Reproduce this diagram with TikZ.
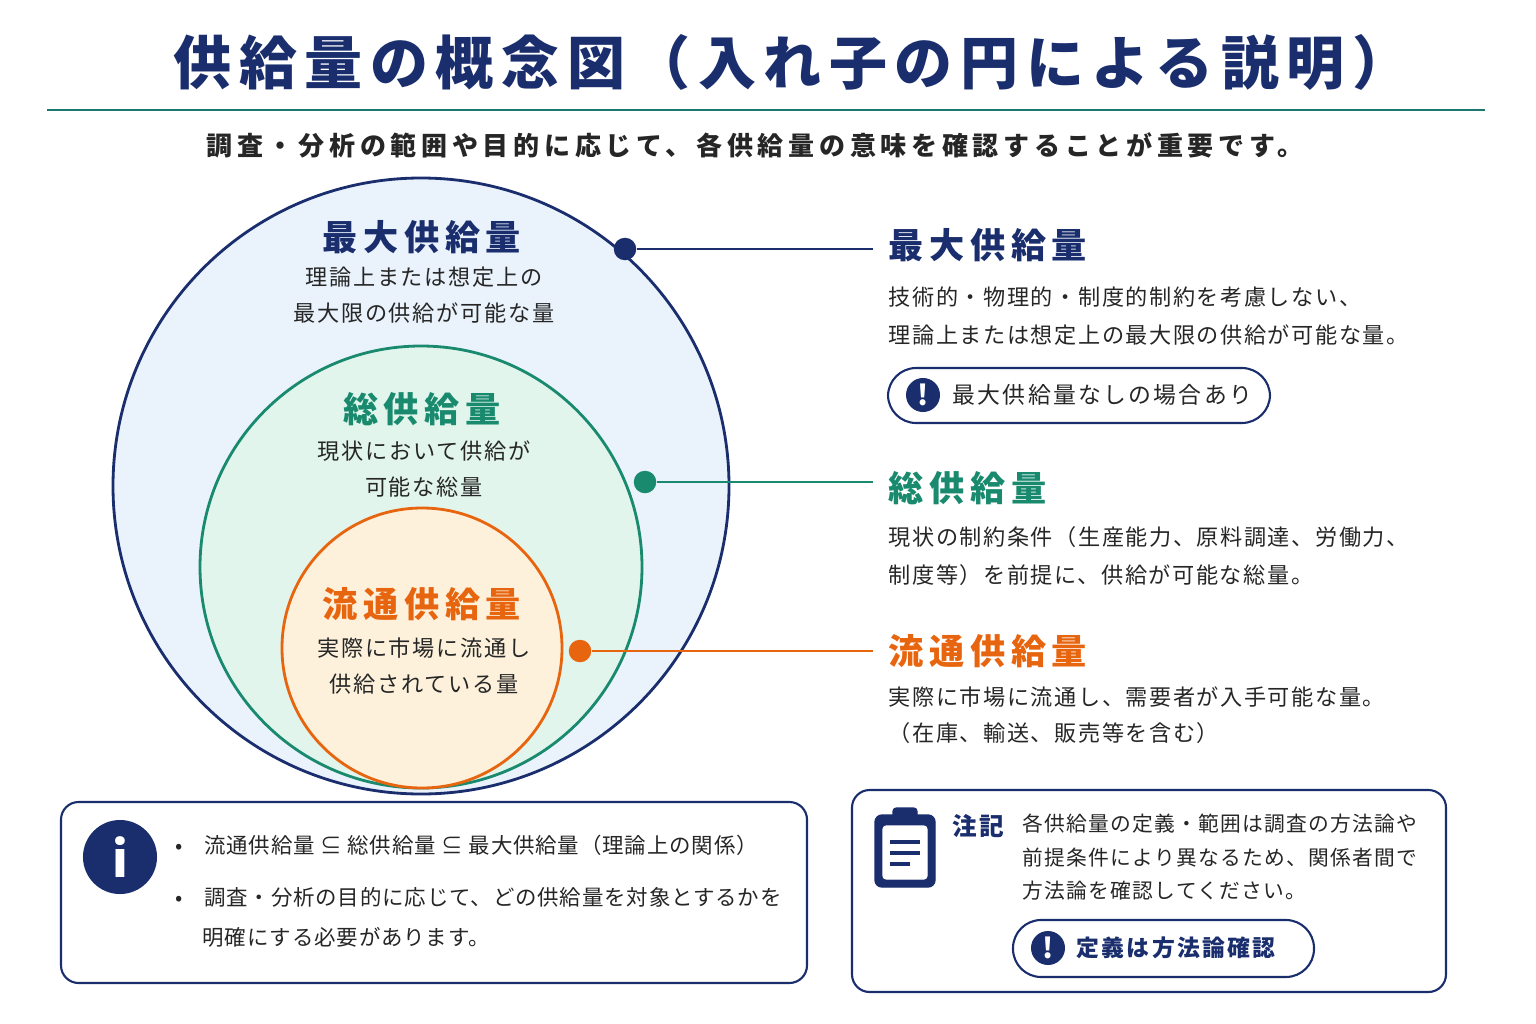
\documentclass[tikz,border=0pt]{standalone}
\usepackage{fontspec}
\setmainfont{Noto Sans CJK JP}
\usepackage{tikz}
\usetikzlibrary{positioning,calc}
\definecolor{navy}{HTML}{1A2E6E}
\definecolor{teal2}{HTML}{1A8A6E}
\definecolor{orng}{HTML}{E8650F}
\definecolor{fblue}{HTML}{EAF2FC}
\definecolor{fgreen}{HTML}{E1F5EC}
\definecolor{forng}{HTML}{FDF1DC}
\newcommand{\fs}[2]{\fontsize{#1pt}{#1pt}\selectfont\addfontfeature{LetterSpace=#2}}
\tikzset{
  head/.style={font=\fs{10}{16}\bfseries, inner sep=0pt},
  body/.style={font=\fs{6.3}{7}, inner sep=0pt, text=black!85},
  dot/.style={circle, minimum size=16\pgflinewidth, inner sep=0pt},
  pill/.style={draw=navy, rounded corners=8pt, line width=0.6pt, fill=white},
  box/.style={draw=navy, rounded corners=5pt, line width=0.6pt, fill=white},
  excl/.style={circle, fill=navy, text=white, font=\fs{8}{0}\bfseries, minimum size=0.34cm, inner sep=0pt}
}
\begin{document}
\begin{tikzpicture}[x=0.01cm, y=-0.01cm]
    \useasboundingbox (0,0) rectangle (1536,1024);
    % Title
    \node[font=\fs{16.5}{13}\bfseries, text=navy, inner sep=0pt] (title) at (792,62) {供給量の概念図（入れ子の円による説明）};
    \draw[teal2!80!navy, line width=0.7pt] (47,110) -- (1485,110);
    \node[font=\fs{7.4}{18}\bfseries, text=black!85, inner sep=0pt] (sub) at (755,145) {調査・分析の範囲や目的に応じて、各供給量の意味を確認することが重要です。};

    % Circles
    \draw[navy, fill=fblue, line width=0.8pt] (421,486) circle (308);
    \draw[teal2, fill=fgreen, line width=0.8pt] (421,567) circle (221);
    \draw[orng, fill=forng, line width=0.8pt] (422,648) circle (140);

    % Labels in circles
    \node[head, text=navy] (cmax) at (422,237) {最大供給量};
    \node[body, align=center, font=\fs{6.3}{8}] (cmaxt) at (424,295) {理論上または想定上の\\[4pt]最大限の供給が可能な量};
    \node[head, text=teal2] (ctot) at (422,409) {総供給量};
    \node[body, align=center, font=\fs{6.3}{8}] (ctott) at (424,469) {現状において供給が\\[4pt]可能な総量};
    \node[head, text=orng] (cflow) at (422,604) {流通供給量};
    \node[body, align=center, font=\fs{6.3}{8}] (cflowt) at (424,666) {実際に市場に流通し\\[4pt]供給されている量};

    % Connectors
    \node[dot, fill=navy] (d1) at (625,249) {};
    \node[dot, fill=teal2] (d2) at (645,482) {};
    \node[dot, fill=orng] (d3) at (580,651) {};
    \coordinate (e1) at (873,249);
    \coordinate (e2) at (873,482);
    \coordinate (e3) at (873,651);
    \draw[navy, line width=0.8pt] (d1) -- (e1);
    \draw[teal2, line width=0.8pt] (d2) -- (e2);
    \draw[orng, line width=0.8pt] (d3) -- (e3);

    % Right descriptions
    \node[head, text=navy, anchor=west] (rmax) at (888,245) {最大供給量};
    \node[body, anchor=west] (rmax1) at (888,297) {技術的・物理的・制度的制約を考慮しない、};
    \node[body, anchor=west] (rmax2) at (888,335) {理論上または想定上の最大限の供給が可能な量。};
    \draw[pill] (888,368) rectangle (1270,423);
    \node[excl] (x1) at (923,395) {!};
    \node[body, anchor=west, font=\fs{6.5}{10}] (p1) at (952,395) {最大供給量なしの場合あり};

    \node[head, text=teal2, anchor=west] (rtot) at (888,488) {総供給量};
    \node[body, anchor=west] (rtot1) at (888,537) {現状の制約条件（生産能力、原料調達、労働力、};
    \node[body, anchor=west] (rtot2) at (888,575) {制度等）を前提に、供給が可能な総量。};

    \node[head, text=orng, anchor=west] (rflow) at (888,651) {流通供給量};
    \node[body, anchor=west] (rflow1) at (888,697) {実際に市場に流通し、需要者が入手可能な量。};
    \node[body, anchor=west] (rflow2) at (888,733) {（在庫、輸送、販売等を含む）};

    % Bottom left box
    \draw[box] (61,802) rectangle (807,983);
    \node[circle, fill=navy, text=white, minimum size=0.74cm, inner sep=0pt, font=\fs{14}{0}\bfseries] (info) at (120,857) {i};
    \node[body, anchor=west, font=\fs{6.1}{4}] (b1) at (175,845) {•\hspace{6pt}流通供給量 ⊆ 総供給量 ⊆ 最大供給量（理論上の関係）};
    \node[body, anchor=west, font=\fs{6.1}{4}] (b2) at (175,897) {•\hspace{6pt}調査・分析の目的に応じて、どの供給量を対象とするかを};
    \node[body, anchor=west, font=\fs{6.1}{4}] (b3) at (202,937) {明確にする必要があります。};

    % Bottom right box
    \draw[box] (852,790) rectangle (1446,992);
    \draw[navy, fill=navy, rounded corners=2pt] (875,815) rectangle (935,887);
    \draw[white, fill=white, rounded corners=1pt] (883,826) rectangle (927,879);
    \draw[navy, fill=navy, rounded corners=1pt] (893,808) rectangle (917,822);
    \foreach \yy/\ww in {842/920, 853/920, 864/910} \draw[navy, line width=1.1pt] (890,\yy) -- (\ww,\yy);
    \node[font=\fs{7}{10}\bfseries, text=navy, inner sep=0pt] (note) at (978,826) {注記};
    \node[body, anchor=west, font=\fs{5.9}{6}] (n1) at (1022,824) {各供給量の定義・範囲は調査の方法論や};
    \node[body, anchor=west, font=\fs{5.9}{6}] (n2) at (1022,858) {前提条件により異なるため、関係者間で};
    \node[body, anchor=west, font=\fs{5.9}{6}] (n3) at (1022,891) {方法論を確認してください。};
    \draw[pill] (1013,920) rectangle (1314,977);
    \node[excl] (x2) at (1048,948) {!};
    \node[body, anchor=west, font=\fs{6.5}{10}\bfseries, text=navy] (p2) at (1076,948) {定義は方法論確認};
\end{tikzpicture}
\end{document}
